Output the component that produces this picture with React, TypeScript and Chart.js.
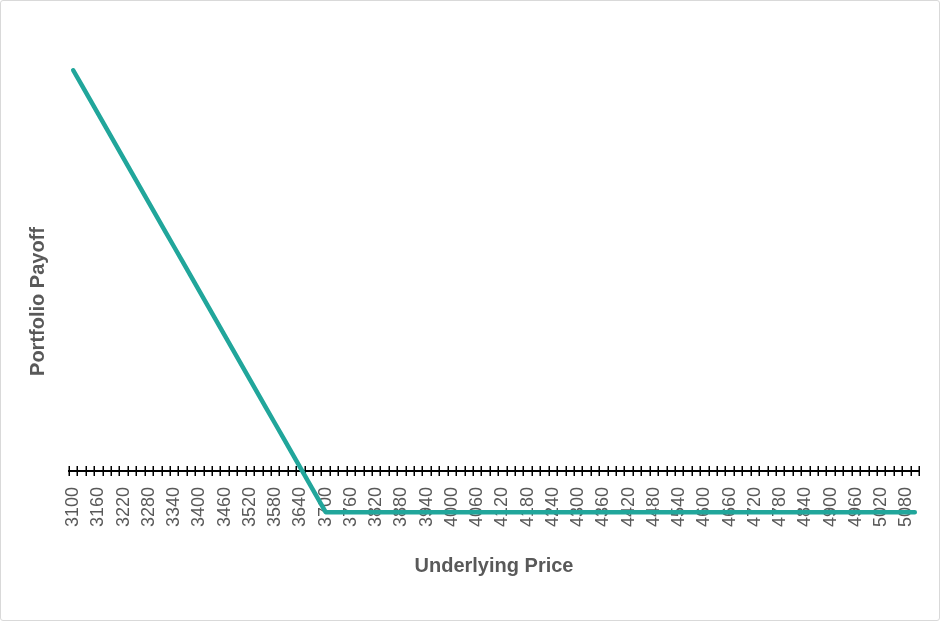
import React, { useEffect, useRef } from "react";
import { Chart, registerables } from "chart.js";

Chart.register(...registerables);

const prices: number[] = [
  3100, 3120, 3140, 3160, 3180, 3200, 3220, 3240, 3260, 3280,
  3300, 3320, 3340, 3360, 3380, 3400, 3420, 3440, 3460, 3480,
  3500, 3520, 3540, 3560, 3580, 3600, 3620, 3640, 3660, 3680,
  3700, 3720, 3740, 3760, 3780, 3800, 3820, 3840, 3860, 3880,
  3900, 3920, 3940, 3960, 3980, 4000, 4020, 4040, 4060, 4080,
  4100, 4120, 4140, 4160, 4180, 4200, 4220, 4240, 4260, 4280,
  4300, 4320, 4340, 4360, 4380, 4400, 4420, 4440, 4460, 4480,
  4500, 4520, 4540, 4560, 4580, 4600, 4620, 4640, 4660, 4680,
  4700, 4720, 4740, 4760, 4780, 4800, 4820, 4840, 4860, 4880,
  4900, 4920, 4940, 4960, 4980, 5000, 5020, 5040, 5060, 5080,
  5100,
];

const payoff: number[] = [
  544, 524, 504, 484, 464, 444, 424, 404, 384, 364,
  344, 324, 304, 284, 264, 244, 224, 204, 184, 164,
  144, 124, 104, 84, 64, 44, 24, 4, -16, -36,
  -56, -56, -56, -56, -56, -56, -56, -56, -56, -56,
  -56, -56, -56, -56, -56, -56, -56, -56, -56, -56,
  -56, -56, -56, -56, -56, -56, -56, -56, -56, -56,
  -56, -56, -56, -56, -56, -56, -56, -56, -56, -56,
  -56, -56, -56, -56, -56, -56, -56, -56, -56, -56,
  -56, -56, -56, -56, -56, -56, -56, -56, -56, -56,
  -56, -56, -56, -56, -56, -56, -56, -56, -56, -56,
  -56,
];

const xTitle = "Underlying Price";
const yTitle = "Portfolio Payoff";
const labelEvery = 3;

const FONT = "'Liberation Sans', Arial, sans-serif";
const TEXT = "#595959";

const crossTicks = {
  id: "crossTicks",
  beforeDatasetsDraw(chart: any) {
    const xs = chart.scales.x;
    const ys = chart.scales.y;
    const y0 = ys.getPixelForValue(0);
    const ctx = chart.ctx;
    const n = chart.data.labels.length;
    ctx.save();
    ctx.strokeStyle = "#000000";
    ctx.lineWidth = 1.5;
    ctx.beginPath();
    for (let i = 0; i <= n; i++) {
      const px = Math.round(xs.getPixelForValue(i - 0.5)) + 0.25;
      ctx.moveTo(px, y0 - 5);
      ctx.lineTo(px, y0 + 5);
    }
    ctx.stroke();
    ctx.restore();
  },
};

export default function App() {
  const ref = useRef<HTMLCanvasElement | null>(null);
  useEffect(() => {
    if (!ref.current) return;
    const chart = new Chart(ref.current, {
      type: "line",
      data: {
        labels: prices.map(String),
        datasets: [
          {
            data: payoff,
            borderColor: "rgb(33,166,155)",
            borderWidth: 4.5,
            borderCapStyle: "round",
            borderJoinStyle: "round",
            pointRadius: 0,
            fill: false,
            tension: 0,
          },
        ],
      },
      options: {
        animation: false,
        responsive: true,
        maintainAspectRatio: false,
        events: [],
        layout: { padding: { left: 25, right: 20, top: 28, bottom: 46 } },
        plugins: {
          legend: { display: false },
          tooltip: { enabled: false },
          title: { display: false },
        },
        scales: {
          x: {
            type: "category",
            position: { y: 0 },
            offset: true,
            afterFit: (s: any) => {
              s.paddingRight = 0;
              s.paddingLeft = 0;
            },
            grid: { display: false },
            border: { display: true, color: "#000000", width: 2 },
            ticks: {
              autoSkip: false,
              minRotation: 90,
              maxRotation: 90,
              padding: 8,
              color: TEXT,
              font: { family: FONT, size: 18 },
              callback: (_v: any, i: number) =>
                i % labelEvery === 0 ? String(prices[i]) : "",
            },
            title: {
              display: true,
              text: xTitle,
              color: TEXT,
              font: { family: FONT, size: 20, weight: "bold" },
              padding: { top: 20, bottom: 0 },
            },
          },
          y: {
            min: -140,
            max: 600,
            grid: { display: false },
            border: { display: false },
            ticks: { display: false },
            title: {
              display: true,
              text: yTitle,
              color: TEXT,
              font: { family: FONT, size: 20, weight: "bold" },
              padding: { top: 0, bottom: 11 },
            },
          },
        },
      },
      plugins: [crossTicks],
    } as any);
    return () => chart.destroy();
  }, []);

  return (
    <div
      style={{
        position: "absolute",
        left: 0,
        top: 0,
        width: 940,
        height: 621,
        boxSizing: "border-box",
        border: "1px solid #d9d9d9",
        borderRadius: 3,
        background: "#ffffff",
      }}
    >
      <canvas ref={ref} />
    </div>
  );
}
